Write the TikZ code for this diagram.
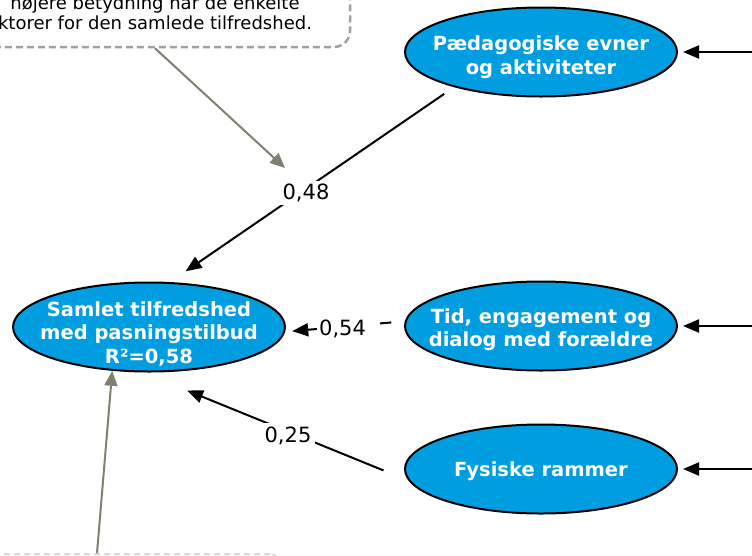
\documentclass[tikz,border=0pt]{standalone}
\usepackage{fontspec}
\setmainfont{DejaVu Sans}
\usetikzlibrary{arrows.meta,shapes.geometric}
\definecolor{ellblue}{RGB}{0,158,224}
\definecolor{arrgrey}{RGB}{128,128,112}
\definecolor{notegrey}{RGB}{160,160,160}
\definecolor{notelight}{RGB}{208,208,208}
\newcommand{\lowerby}[1]{\rule{0pt}{#1}}
\begin{document}
\begin{tikzpicture}[x=1pt,y=-1pt,
  factor/.style={ellipse, draw=black, line width=2pt, fill=ellblue, text=white,
    font=\fontsize{19.5}{23.5}\selectfont\bfseries, align=center,
    minimum width=272pt, minimum height=89pt, inner xsep=-30pt, inner ysep=-14pt},
  coef/.style={fill=white, font=\fontsize{21}{24}\selectfont, inner sep=3pt},
  conn/.style={draw=black, line width=2pt, -{Triangle[length=16pt,width=13pt]}},
  pointer/.style={draw=arrgrey, line width=2pt, -{Triangle[length=15pt,width=13pt]}},
  notebox/.style={draw=notegrey, line width=2.5pt, dash pattern=on 7pt off 4pt,
    rounded corners=16pt, align=center, font=\fontsize{18}{20}\selectfont,
    minimum width=390pt, minimum height=68pt, inner sep=0pt},
  notebox2/.style={draw=notelight, line width=1.5pt, dash pattern=on 6pt off 4pt,
    rounded corners=10pt, minimum width=366pt, minimum height=92pt, inner sep=0pt}
]
\useasboundingbox (0,0) rectangle (752,555);
\clip (0,0) rectangle (752,555);

% callouts
\node[notebox, text depth=0pt] (note1) at (155,13) {højere betydning har de enkelte\\ktorer for den samlede tilfredshed.};
\node[notebox2] (note2) at (97,600) {};

% factors
\node[factor] (pae) at (541,52) {\lowerby{25pt}Pædagogiske evner\\og aktiviteter};
\node[factor] (tid) at (541,326) {\lowerby{22pt}Tid, engagement og\\dialog med forældre};
\node[factor] (fys) at (541,469) {\lowerby{19pt}Fysiske rammer};
\node[factor] (sam) at (149,327) {\lowerby{28pt}Samlet tilfredshed\\med pasningstilbud\\R²=0,58};

% incoming arrows from the right edge
\coordinate (in1) at (770,52);
\coordinate (in2) at (770,326);
\coordinate (in3) at (770,469);
\draw[conn, shorten >=5pt] (in1) -- (pae.east);
\draw[conn, shorten >=5pt] (in2) -- (tid.east);
\draw[conn, shorten >=5pt] (in3) -- (fys.east);

% paths to the total satisfaction
\draw[conn, shorten <=12pt, shorten >=19pt] (pae.202.5) -- (sam.65.4);
\draw[conn, shorten <=13.5pt, shorten >=7pt] (tid.178.4) -- (sam.-2.4);
\draw[conn, shorten <=27pt, shorten >=48pt] (fys.185.8) -- (sam.-98);

% coefficients
\node[coef] (c48) at (306,193) {0,48};
\node[coef, anchor=west, inner xsep=2pt] (c54) at (317,329) {0,54\kern12pt};
\node[coef, inner sep=4pt] (c25) at (288,436) {0,25};

% callout pointers
\coordinate (p1) at (285,168);
\draw[pointer] (note1.south) -- (p1);
\draw[pointer] (note2.north) -- (sam.-130.3);
\end{tikzpicture}
\end{document}
